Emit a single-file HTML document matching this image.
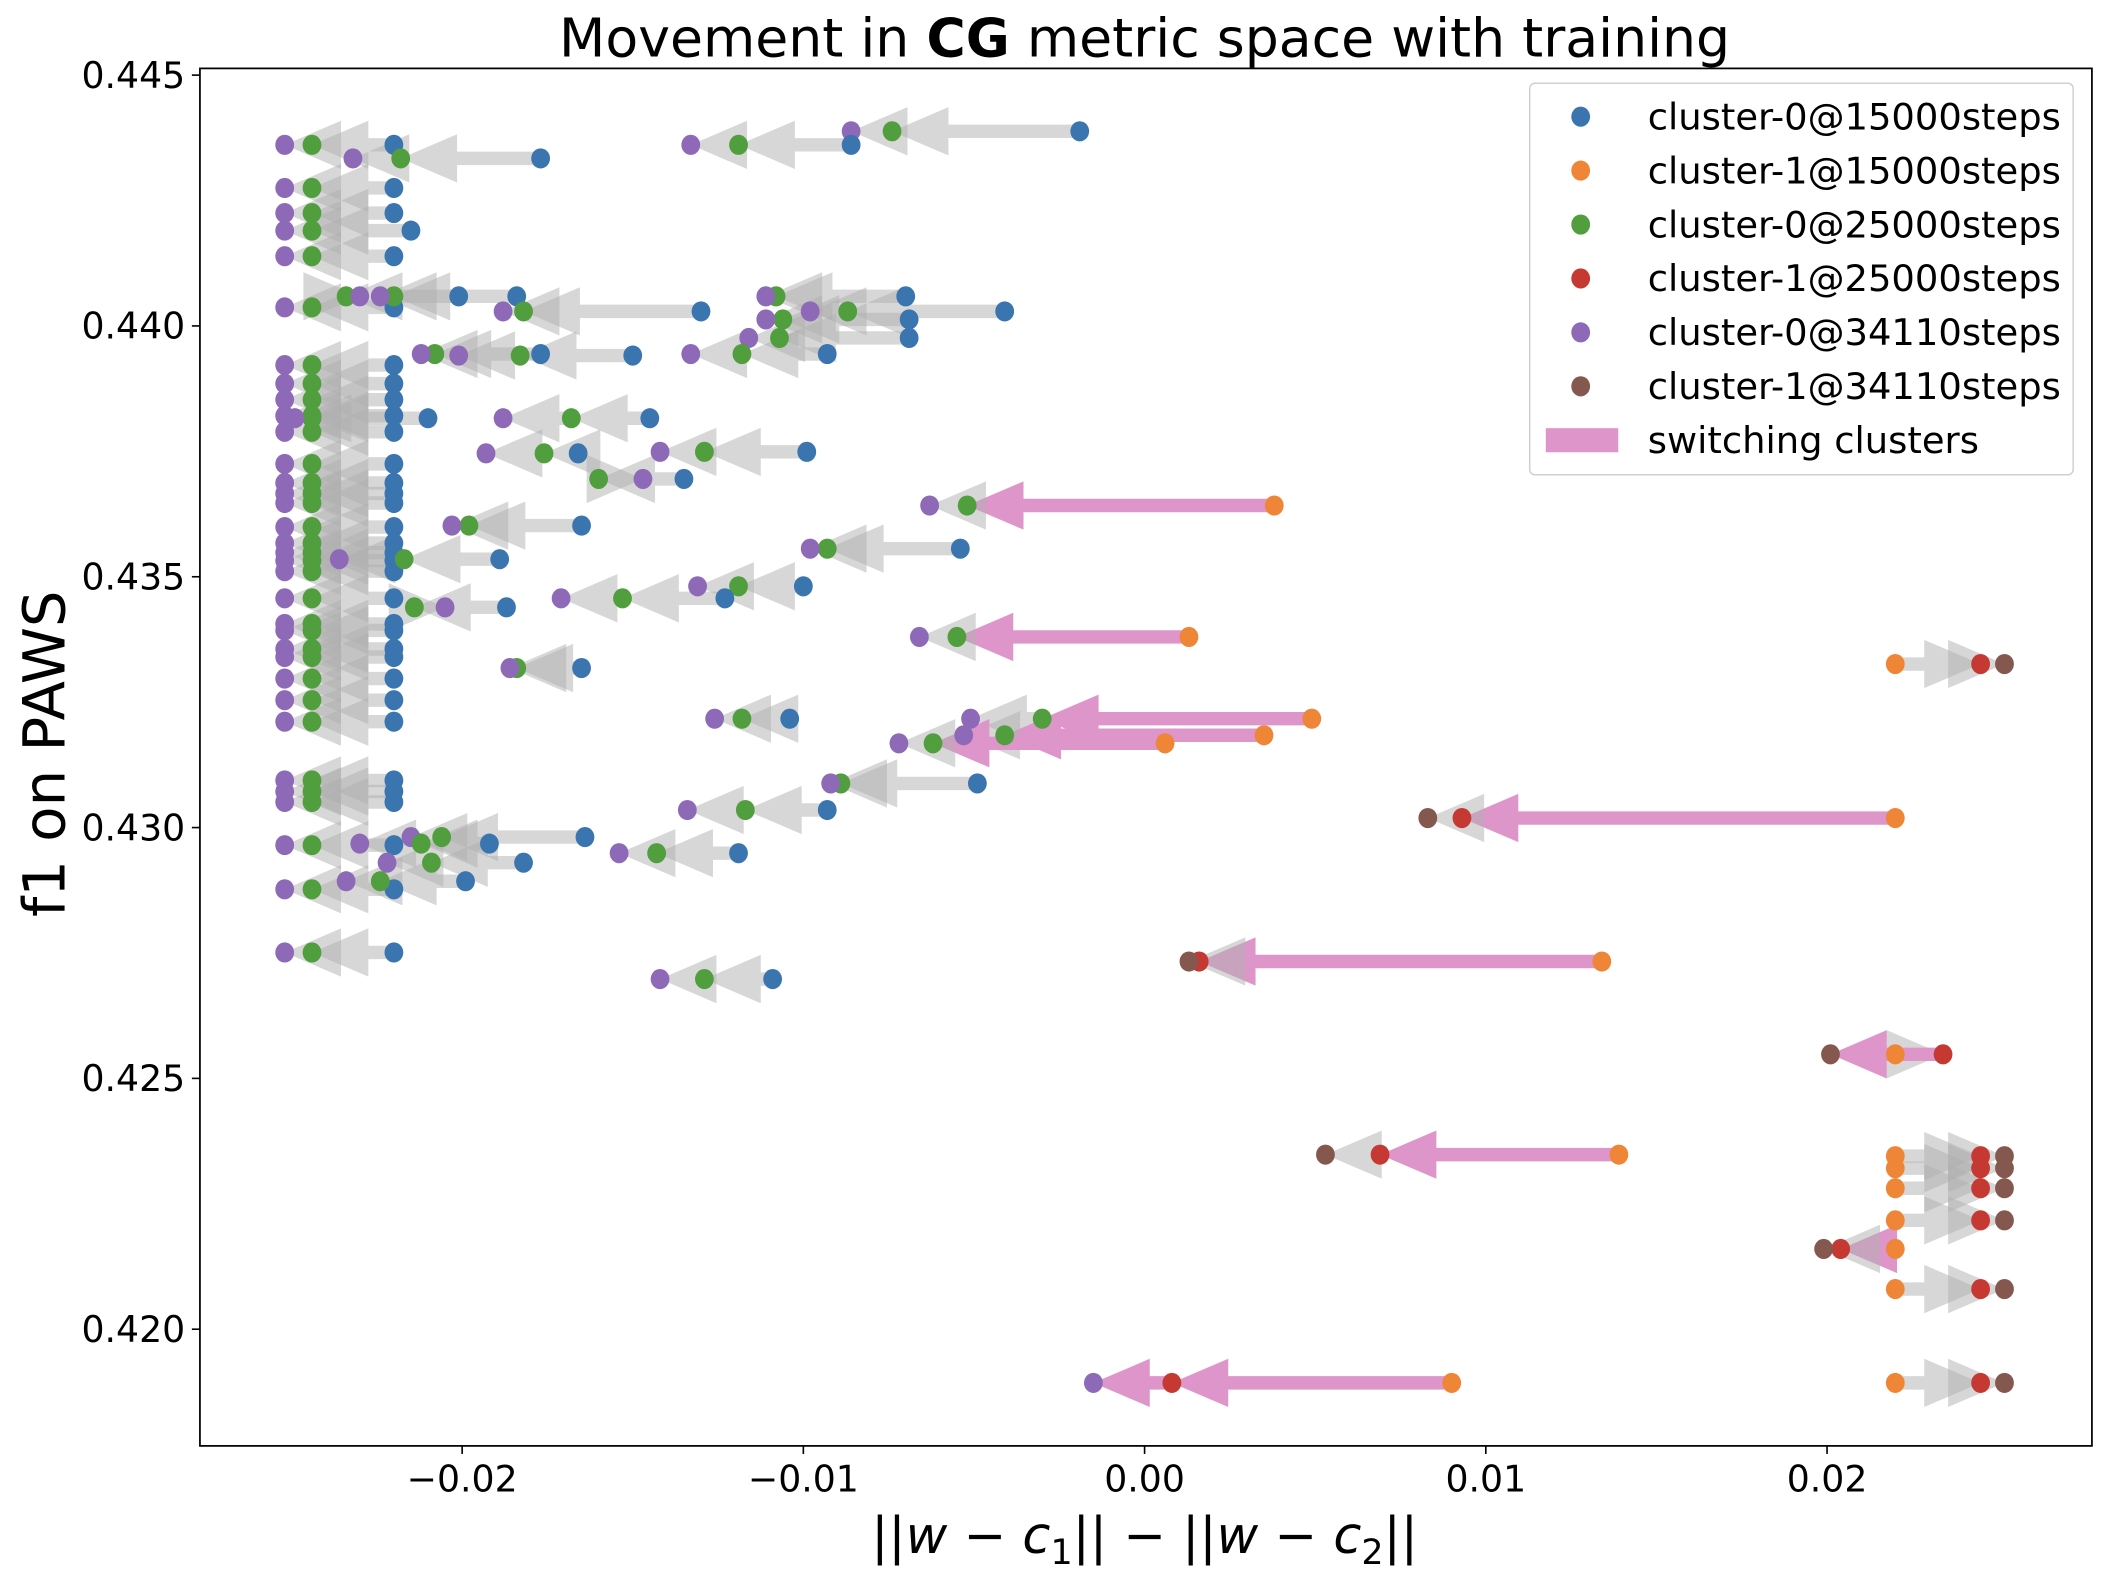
<!DOCTYPE html>
<html><head><meta charset="utf-8"><style>
html,body{margin:0;padding:0;background:#fff}
svg{display:block}
text{font-family:"DejaVu Sans","Liberation Sans",sans-serif}
</style></head><body>
<svg id="chart" width="2104" height="1576" viewBox="0 0 1568 1175" preserveAspectRatio="none" xmlns="http://www.w3.org/2000/svg">
<rect x="0" y="0" width="1568" height="1175" fill="#fff"/>
<text x="853" y="42" font-size="40" text-anchor="middle">Movement in <tspan font-weight="bold">CG</tspan> metric space with training</text>
<g id="arrows"></g>
<g id="points"></g>
<rect x="149" y="51" width="1410" height="1027" fill="none" stroke="#000" stroke-width="1.3"/>
<g id="xticks"></g>
<g id="yticks"></g>
<text x="853" y="1158" font-size="38" text-anchor="middle" font-family="DejaVu Sans, sans-serif">||<tspan font-style="italic">w</tspan> − <tspan font-style="italic">c</tspan><tspan font-size="26" dy="8">1</tspan><tspan dy="-8">|| − ||</tspan><tspan font-style="italic">w</tspan> − <tspan font-style="italic">c</tspan><tspan font-size="26" dy="8">2</tspan><tspan dy="-8">||</tspan></text>
<text transform="translate(48,562) rotate(-90)" font-size="43" text-anchor="middle">f1 on PAWS</text>
<g id="legend">
<rect x="1140" y="62" width="405" height="292" rx="4" fill="#fff" fill-opacity="0.8" stroke="#ccc" stroke-width="1"/>
</g>
</svg>
<script>
// x values in units of 1e-3; y (f1) in units of 1e-3
const leftY = [443.61,442.75,442.25,441.90,441.39,440.37,439.22,438.85,438.53,438.21,437.89,437.25,436.87,436.66,436.47,435.99,435.67,435.48,435.32,435.11,434.57,434.06,433.93,433.56,433.40,432.97,432.54,432.11,430.94,430.72,430.51,429.65,428.77,427.51];
const leftX15 = [-22.0,-22.0,-22.0,-21.5,-22.0,-22.0,-22.0,-22.0,-22.0,-22.0,-22.0,-22.0,-22.0,-22.0,-22.0,-22.0,-22.0,-22.0,-22.0,-22.0,-22.0,-22.0,-22.0,-22.0,-22.0,-22.0,-22.0,-22.0,-22.0,-22.0,-22.0,-22.0,-22.0,-22.0];
const leftX25 = -24.4;
const leftX34 = -25.2;

const runY   = [443.88,443.61,443.34,440.59,440.59,440.29,440.59,440.29,440.13,439.76,439.41,439.44,439.44,438.16,438.16,437.46,437.49,436.95,436.02,435.56,435.35,434.81,434.57,434.39,433.18,432.17,430.88,430.35,429.81,429.68,429.49,429.30,428.93,426.98,
  436.42,433.80,432.17,431.84,431.68,
  433.26,430.19,427.33,425.48,423.48,423.45,423.21,422.81,422.17,421.60,420.80,418.93,418.93];
const runX15 = [-1.9,-8.6,-17.7,-20.1,-18.4,-13.0,-7.0,-4.1,-6.9,-6.9,-15.0,-17.7,-9.3,-14.5,-21.0,-16.6,-9.9,-13.5,-16.5,-5.4,-18.9,-10.0,-12.3,-18.7,-16.5,-10.4,-4.9,-9.3,-16.4,-19.2,-11.9,-18.2,-19.9,-10.9,
  3.8,1.3,4.9,3.5,0.6,
  22.0,22.0,13.4,22.0,13.9,22.0,22.0,22.0,22.0,22.0,22.0,9.0,22.0];
const runX25 = [-7.4,-11.9,-21.8,-23.4,-22.0,-18.2,-10.8,-8.7,-10.6,-10.7,-18.3,-20.8,-11.8,-16.8,-24.4,-17.6,-12.9,-16.0,-19.8,-9.3,-21.7,-11.9,-15.3,-21.4,-18.4,-11.8,-8.9,-11.7,-20.6,-21.2,-14.3,-20.9,-22.4,-12.9,
  -5.2,-5.5,-3.0,-4.1,-6.2,
  24.5,9.3,1.6,23.4,6.9,24.5,24.5,24.5,24.5,20.4,24.5,0.8,24.5];
const runX34 = [-8.6,-13.3,-23.2,-23.0,-22.4,-18.8,-11.1,-9.8,-11.1,-11.6,-20.1,-21.2,-13.3,-18.8,-24.9,-19.3,-14.2,-14.7,-20.3,-9.8,-23.6,-13.1,-17.1,-20.5,-18.6,-12.6,-9.2,-13.4,-21.5,-23.0,-15.4,-22.2,-23.4,-14.2,
  -6.3,-6.6,-5.1,-5.3,-7.2,
  25.2,8.3,1.3,20.1,5.3,25.2,25.2,25.2,25.2,19.9,25.2,-1.5,25.2];
const runC15 = [0,0,0,0,0,0,0,0,0,0,0,0,0,0,0,0,0,0,0,0,0,0,0,0,0,0,0,0,0,0,0,0,0,0, 1,1,1,1,1, 1,1,1,1,1,1,1,1,1,1,1,1,1];
const runC25 = [0,0,0,0,0,0,0,0,0,0,0,0,0,0,0,0,0,0,0,0,0,0,0,0,0,0,0,0,0,0,0,0,0,0, 0,0,0,0,0, 1,1,1,1,1,1,1,1,1,1,1,1,1];
const runC34 = [0,0,0,0,0,0,0,0,0,0,0,0,0,0,0,0,0,0,0,0,0,0,0,0,0,0,0,0,0,0,0,0,0,0, 0,0,0,0,0, 1,1,1,1,1,1,1,1,1,1,1,0,1];
const runSw1 = [0,0,0,0,0,0,0,0,0,0,0,0,0,0,0,0,0,0,0,0,0,0,0,0,0,0,0,0,0,0,0,0,0,0, 1,1,1,1,1, 0,1,1,0,1,0,0,0,0,1,0,1,0];
const runSw2 = [0,0,0,0,0,0,0,0,0,0,0,0,0,0,0,0,0,0,0,0,0,0,0,0,0,0,0,0,0,0,0,0,0,0, 0,0,0,0,0, 0,0,0,1,0,0,0,0,0,0,0,1,0];

const xTicks = [-0.02,-0.01,0.00,0.01,0.02];
const xTickLabels = ["\u22120.02","\u22120.01","0.00","0.01","0.02"];
const yTicks = [0.420,0.425,0.430,0.435,0.440,0.445];
const yTickLabels = ["0.420","0.425","0.430","0.435","0.440","0.445"];
const legendLabels = ["cluster-0@15000steps","cluster-1@15000steps","cluster-0@25000steps","cluster-1@25000steps","cluster-0@34110steps","cluster-1@34110steps","switching clusters"];

const NS = "http://www.w3.org/2000/svg";
function X(v){ return 853 + v*25430; }
function Y(v){ return 991 - (v-0.420)*37400; }
const COL = {s15:["#3a75b0","#ef8536"], s25:["#519e3e","#c53932"], s34:["#8d69b8","#84584e"]};
const arrowsG = document.getElementById('arrows');
const pointsG = document.getElementById('points');

function arrow(x1,x2,y,pink){
  const L = x1-x2, dir = L>=0?1:-1, hl=42, hw=18, sw=5;
  const baseX = x2 + dir*hl;
  let d;
  if (Math.abs(L) > hl) {
    d = `M${x1},${y-sw} L${baseX},${y-sw} L${baseX},${y-hw} L${x2},${y} L${baseX},${y+hw} L${baseX},${y+sw} L${x1},${y+sw} Z`;
  } else {
    d = `M${baseX},${y-hw} L${x2},${y} L${baseX},${y+hw} Z`;
  }
  const p = document.createElementNS(NS,'path');
  p.setAttribute('d',d);
  p.setAttribute('fill', pink ? '#de96ca' : '#b0b0b0');
  p.setAttribute('fill-opacity', pink ? '1' : '0.5');
  
  
  arrowsG.appendChild(p);
}
function dot(x,y,c,name){
  const e = document.createElementNS(NS,'ellipse');
  e.setAttribute('cx',x); e.setAttribute('cy',y); e.setAttribute('rx',7); e.setAttribute('ry',7.5);
  e.setAttribute('fill',c);
  
  
  pointsG.appendChild(e);
}
const pts = [];
leftY.forEach((yv,i)=>{
  const y=Y(yv*1e-3), a=X(leftX15[i]*1e-3), b=X(leftX25*1e-3), c=X(leftX34*1e-3);
  arrow(a,b,y,false); arrow(b,c,y,false);
  pts.push([a,y,COL.s15[0],'point-15000'],[b,y,COL.s25[0],'point-25000'],[c,y,COL.s34[0],'point-34110']);
});
runY.forEach((yv,i)=>{
  const y=Y(yv*1e-3), a=X(runX15[i]*1e-3), b=X(runX25[i]*1e-3), c=X(runX34[i]*1e-3);
  arrow(a,b,y,runSw1[i]||runC15[i]!==runC25[i]);
  arrow(b,c,y,runSw2[i]||runC25[i]!==runC34[i]);
  pts.push([a,y,COL.s15[runC15[i]],'point-15000'],[b,y,COL.s25[runC25[i]],'point-25000'],[c,y,COL.s34[runC34[i]],'point-34110']);
});
pts.forEach(p=>dot(p[0],p[1],p[2],p[3]));

const xt = document.getElementById('xticks');
xTicks.forEach((v,i)=>{
  const x=X(v);
  const l=document.createElementNS(NS,'line');
  l.setAttribute('x1',x);l.setAttribute('x2',x);l.setAttribute('y1',1078);l.setAttribute('y2',1084);
  l.setAttribute('stroke','#000');l.setAttribute('stroke-width','1.2');
  
  
  xt.appendChild(l);
  const t=document.createElementNS(NS,'text');
  t.setAttribute('x',x);t.setAttribute('y',1112);t.setAttribute('font-size','27');t.setAttribute('text-anchor','middle');
  t.textContent=xTickLabels[i];
  
  
  xt.appendChild(t);
});
const yt = document.getElementById('yticks');
yTicks.forEach((v,i)=>{
  const y=Y(v);
  const l=document.createElementNS(NS,'line');
  l.setAttribute('x1',143);l.setAttribute('x2',149);l.setAttribute('y1',y);l.setAttribute('y2',y);
  l.setAttribute('stroke','#000');l.setAttribute('stroke-width','1.2');
  
  
  yt.appendChild(l);
  const t=document.createElementNS(NS,'text');
  t.setAttribute('x',138);t.setAttribute('y',y+9.5);t.setAttribute('font-size','27');t.setAttribute('text-anchor','end');
  t.textContent=yTickLabels[i];
  
  
  yt.appendChild(t);
});
const lg = document.getElementById('legend');
const legCols = [COL.s15[0],COL.s15[1],COL.s25[0],COL.s25[1],COL.s34[0],COL.s34[1]];
legendLabels.forEach((lab,i)=>{
  const y = 87 + i*40.2;
  if (i<6){
    const c=document.createElementNS(NS,'ellipse');
    c.setAttribute('cx',1178);c.setAttribute('cy',y);c.setAttribute('rx',7);c.setAttribute('ry',7.5);c.setAttribute('fill',legCols[i]);
    
    
    lg.appendChild(c);
  } else {
    const r=document.createElementNS(NS,'rect');
    r.setAttribute('x',1152);r.setAttribute('y',y-9);r.setAttribute('width',54);r.setAttribute('height',18);r.setAttribute('fill','#de96ca');
    
    
    lg.appendChild(r);
  }
  const t=document.createElementNS(NS,'text');
  t.setAttribute('x',1228);t.setAttribute('y',y+9.5);t.setAttribute('font-size','27.5');
  t.textContent=lab;
  
  
  lg.appendChild(t);
});
</script>
</body></html>
